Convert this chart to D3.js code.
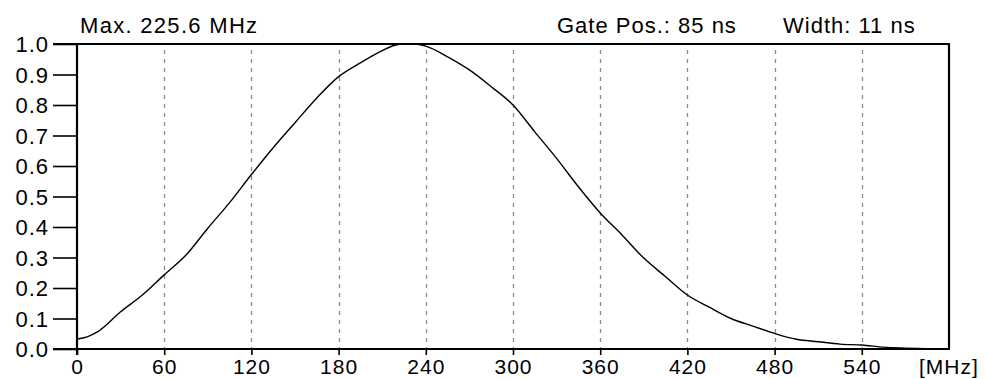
<!DOCTYPE html>
<html>
<head>
<meta charset="utf-8">
<script src="https://cdn.jsdelivr.net/npm/d3@7"></script>
<style>
  html, body { margin: 0; padding: 0; background: #fff; }
  #chart { width: 986px; height: 379px; }
  text { font-family: "Liberation Sans", Arial, sans-serif; fill: #000; }
</style>
</head>
<body>
<div id="chart"></div>
<script>
// spectrum values
const freqs = [0, 7, 14, 30, 45, 60, 75, 90, 105, 120, 135, 150, 165, 180, 195, 210, 218, 225, 232, 240,
  255, 270, 285, 300, 315, 330, 345, 360, 375, 390, 405, 420, 435, 450, 465, 480, 495, 510, 525, 540,
  555, 570, 585, 600];
const amps = [0.033, 0.04, 0.056, 0.122, 0.177, 0.243, 0.308, 0.396, 0.48, 0.572, 0.66, 0.742, 0.823, 0.893, 0.938, 0.978, 0.995, 1.0, 1.0, 0.993,
  0.958, 0.915, 0.86, 0.80, 0.712, 0.625, 0.532, 0.446, 0.374, 0.298, 0.237, 0.177, 0.137, 0.10, 0.075, 0.051, 0.032, 0.024, 0.016, 0.013,
  0.006, 0.003, 0.001, 0];

const xTicks = [0, 60, 120, 180, 240, 300, 360, 420, 480, 540];
const yTicks = [0, 0.1, 0.2, 0.3, 0.4, 0.5, 0.6, 0.7, 0.8, 0.9, 1.0];
const headerLeft = "Max. 225.6 MHz";
const headerGate = "Gate Pos.: 85 ns";
const headerWidth = "Width: 11 ns";
const unitLabel = "[MHz]";

function drawChart() {
  const container = d3.select("#chart");
  container.selectAll("*").remove();

  const width = 986;
  const height = 379;
  const margin = { top: 44, right: 37, bottom: 30, left: 77 };
  const fontSize = 22;

  const svg = container.append("svg")
    .attr("width", width)
    .attr("height", height);

  const x = d3.scaleLinear()
    .domain([0, 600])
    .range([margin.left, width - margin.right]);

  const y = d3.scaleLinear()
    .domain([0, 1])
    .range([height - margin.bottom, margin.top]);

  // dashed vertical grid
  svg.append("g")
    .selectAll("line")
    .data(xTicks.filter(d => d > 0))
    .join("line")
    .attr("x1", d => Math.round(x(d)) + 0.5)
    .attr("x2", d => Math.round(x(d)) + 0.5)
    .attr("y1", margin.top + 6)
    .attr("y2", y(0))
    .attr("stroke", "#8a8a8a")
    .attr("stroke-width", 1.3)
    .attr("stroke-dasharray", "4,5");

  // frame: top and right
  svg.append("line")
    .attr("x1", 53).attr("x2", x(600) + 1)
    .attr("y1", y(1)).attr("y2", y(1))
    .attr("stroke", "#000").attr("stroke-width", 1.8);
  svg.append("line")
    .attr("x1", x(600)).attr("x2", x(600))
    .attr("y1", y(1)).attr("y2", y(0))
    .attr("stroke", "#000").attr("stroke-width", 2.2);

  // y axis
  const yAxis = svg.append("g")
    .attr("transform", `translate(${margin.left},0)`)
    .call(d3.axisLeft(y).tickValues(yTicks).tickFormat(d3.format(".1f")).tickSize(24).tickPadding(4));
  yAxis.select(".domain").attr("stroke-width", 2.2).attr("d", `M0,${y(1)}V${y(0) + 6}`);
  yAxis.selectAll(".tick line").attr("stroke-width", 1.6);
  yAxis.selectAll("text")
    .attr("font-size", fontSize)
    .attr("font-family", "Liberation Sans, Arial, sans-serif")
    .attr("letter-spacing", 1)
    .attr("dy", "0.36em");

  // x axis
  const xAxis = svg.append("g")
    .attr("transform", `translate(0,${y(0)})`)
    .call(d3.axisBottom(x).tickValues(xTicks).tickSize(6).tickPadding(4));
  xAxis.select(".domain").attr("stroke-width", 1.8).attr("d", `M53,0H${x(600) + 1}`);
  xAxis.selectAll(".tick line").attr("stroke-width", 1.6);
  xAxis.selectAll("text")
    .attr("font-size", 21)
    .attr("font-family", "Liberation Sans, Arial, sans-serif")
    .attr("letter-spacing", 1)
    .attr("dy", "0.71em");

  // spectrum curve
  const data = freqs.map((f, i) => ({ f: f, a: amps[i] }));
  const line = d3.line()
    .x(d => x(d.f))
    .y(d => y(d.a))
    .curve(d3.curveMonotoneX);
  svg.append("path")
    .datum(data)
    .attr("fill", "none")
    .attr("stroke", "#000")
    .attr("stroke-width", 1.4)
    .attr("d", line);

  // header texts
  svg.append("text")
    .attr("x", 80).attr("y", 33)
    .attr("font-size", fontSize).attr("letter-spacing", 1.3)
    .text(headerLeft);
  svg.append("text")
    .attr("x", 557).attr("y", 33)
    .attr("font-size", fontSize).attr("letter-spacing", 1)
    .text(headerGate);
  svg.append("text")
    .attr("x", 783).attr("y", 33)
    .attr("font-size", fontSize).attr("letter-spacing", 1)
    .text(headerWidth);

  svg.append("text")
    .attr("x", 919).attr("y", y(0) + 25)
    .attr("font-size", 21).attr("letter-spacing", 1)
    .text(unitLabel);
}

drawChart();
</script>
</body>
</html>
